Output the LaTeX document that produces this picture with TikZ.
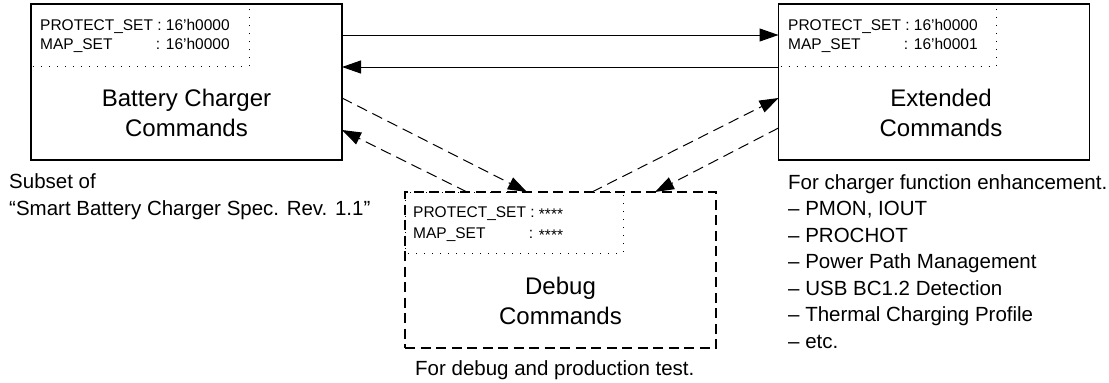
\documentclass[tikz,border=0pt]{standalone}
\usepackage{fontspec}
\setmainfont{Liberation Sans}
\usetikzlibrary{arrows.meta,calc}
\begin{document}
\begin{tikzpicture}[x=1pt,y=-1pt,
 box/.style={draw, line width=1.2pt, rectangle, minimum width=311pt, minimum height=156pt, inner sep=0pt, outer sep=0pt},
 dbox/.style={box, dash pattern=on 10pt off 5.5pt},
 innerdot/.style={draw, line width=0.9pt, dash pattern=on 1pt off 7pt},
 small/.style={inner sep=0pt, font=\fontsize{15.5pt}{19pt}\selectfont},
 big/.style={align=center, inner sep=0pt, font=\fontsize{24pt}{30pt}\selectfont},
 note/.style={inner sep=0pt, anchor=base west, font=\fontsize{20.5pt}{26.5pt}\selectfont},
 arr/.style={line width=1pt, -{Triangle[length=19pt,width=13pt]}},
 darr/.style={arr, dash pattern=on 11pt off 6pt}]
\useasboundingbox (0,0) rectangle (1109,383);

% boxes
\node[box] (bat) at (186.5,82) {};
\node[box] (ext) at (934,82) {};
\node[dbox] (dbg) at (560.5,270) {};

% inner dotted areas
\draw[innerdot] (bat.north west) rectangle ++(218,62);
\draw[innerdot] (ext.north west) rectangle ++(218,62);
\draw[innerdot] (dbg.north west) rectangle ++(218,61);

% register texts
\node[small, anchor=base west] (b1) at ($(bat.north west)+(9,26)$) {PROTECT\_SET : 16'h0000};
\node[small, anchor=base west] (b2) at ($(bat.north west)+(9,45.5)$) {MAP\_SET};
\node[small, anchor=base east] (b3) at ($(b1.base east)+(0,19.5)$) {: 16'h0000};

\node[small, anchor=base west] (x1) at ($(ext.north west)+(9.5,26)$) {PROTECT\_SET : 16'h0000};
\node[small, anchor=base west] (x2) at ($(ext.north west)+(9.5,45.5)$) {MAP\_SET};
\node[small, anchor=base east] (x3) at ($(x1.base east)+(0,19.5)$) {: 16'h0001};

\node[small, anchor=base west] (d1) at ($(dbg.north west)+(8,25)$) {PROTECT\_SET : \raisebox{-2pt}{****}};
\node[small, anchor=base west] (d2) at ($(dbg.north west)+(8,46)$) {MAP\_SET};
\node[small, anchor=base east] (d3) at ($(d1.base east)+(0,21)$) {: \raisebox{-2pt}{****}};

% main labels
\node[big] (bl) at (186.5,113) {Battery Charger\\Commands};
\node[big] (xl) at (941,113) {Extended\\Commands};
\node[big] (dl) at (560.5,300.5) {Debug\\Commands};

% notes
\node[note] (s1) at (9,188) {Subset of};
\node[note] (s2) at (9,215) {“Smart Battery Charger Spec. Rev. 1.1”};
\node[note] (dn) at (415,375) {For debug and production test.};
\foreach \t [count=\i] in {{For charger function enhancement.},{– PMON, IOUT},{– PROCHOT},{– Power Path Management},{– USB BC1.2 Detection},{– Thermal Charging Profile},{– etc.}}
  \node[note] (e\i) at (788,{189+26.5*(\i-1)}) {\t};

% solid arrows
\draw[arr] ($(bat.north east)+(0,31)$) -- ($(ext.north west)+(0,31)$);
\draw[arr] ($(ext.north west)+(0,63)$) -- ($(bat.north east)+(0,63)$);

% dashed arrows
\draw[darr] ($(bat.north east)+(0,94)$) -- ($(dbg.north west)+(122,0)$);
\draw[darr] ($(dbg.north west)+(62,0)$) -- ($(bat.north east)+(0,126)$);
\draw[darr] ($(dbg.north west)+(187,0)$) -- ($(ext.north west)+(0,94)$);
\draw[darr] ($(ext.north west)+(0,124)$) -- ($(dbg.north west)+(250,0)$);
\end{tikzpicture}
\end{document}
